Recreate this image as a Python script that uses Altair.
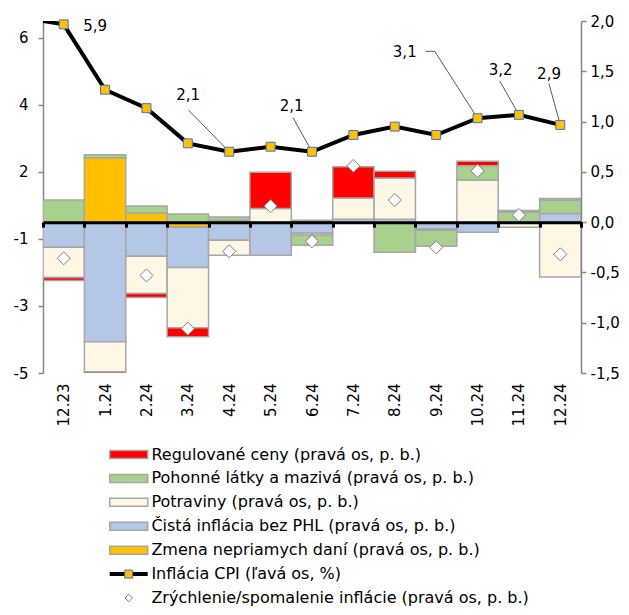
import json
import altair as alt
import pandas as pd

# ---------------- data ----------------
months = ["12.23", "1.24", "2.24", "3.24", "4.24", "5.24", "6.24",
          "7.24", "8.24", "9.24", "10.24", "11.24", "12.24"]

# CPI inflation, left axis (%)
cpi = [5.9, 3.95, 3.4, 2.35, 2.1, 2.25, 2.1, 2.6, 2.85, 2.6, 3.1, 3.2, 2.9]
cpi_prev = 6.1  # 11.23 - only the segment entering at the left edge is visible

# acceleration / deceleration of inflation, right axis (p. p.); 1.24 is off-scale
accel = [-0.36, None, -0.53, -1.06, -0.29, 0.16, -0.19, 0.56, 0.22, -0.25, 0.51, 0.07, -0.32]

# contributions, right axis (p. p.)
dane = [0.0, 0.64, 0.09, -0.05, 0.02, 0.0, 0.0, 0.0, 0.0, 0.0, 0.0, 0.0, 0.0]
cista = [-0.25, -1.19, -0.34, -0.40, -0.18, -0.33, -0.11, 0.03, 0.03, -0.065, -0.10, 0.0, 0.085]
potraviny = [-0.30, -0.30, -0.37, -0.60, -0.15, 0.135, -0.02, 0.21, 0.41, -0.015, 0.42, -0.05, -0.545]
pohonne = [0.22, 0.03, 0.07, 0.08, 0.03, 0.0, -0.10, 0.0, -0.30, -0.16, 0.14, 0.10, 0.135]
regulovane = [-0.03, -0.03, -0.04, -0.09, 0.0, 0.36, 0.02, 0.31, 0.065, 0.0, 0.045, 0.015, 0.015]

series_names = [
    "Regulované ceny (pravá os, p. b.)",
    "Pohonné látky a mazivá (pravá os, p. b.)",
    "Potraviny (pravá os, p. b.)",
    "Čistá inflácia bez PHL (pravá os, p. b.)",
    "Zmena nepriamych daní (pravá os, p. b.)",
]
line_name = "Inflácia CPI (ľavá os, %)"
diamond_name = "Zrýchlenie/spomalenie inflácie (pravá os, p. b.)"
series_colors = ["#ff0000", "#a9d18e", "#fff7e5", "#b4c7e7", "#ffc000"]

left_ticks = [-4.5, -2.5, -0.5, 1.5, 3.5, 5.5]
left_tick_labels = ["-5", "-3", "-1", "2", "4", "6"]
right_ticks = [-1.5, -1.0, -0.5, 0.0, 0.5, 1.0, 1.5, 2.0]

labelled = [0, 4, 6, 10, 11, 12]

# ---------------- layout / style ----------------
W, H = 538, 352
LEFT_DOM = [-4.5, 6.0]
RIGHT_DOM = [-1.5, 2.0]
FONT = "DejaVu Sans"
FS = 15
LEG_FS = 16
GRAY_AX = "#868686"
BAR_STROKE = "#a6a6a6"

px_x = W / len(months)
px_left = H / (LEFT_DOM[1] - LEFT_DOM[0])
zero_px = H * RIGHT_DOM[1] / (RIGHT_DOM[1] - RIGHT_DOM[0])

# label offsets (pixels, relative to the marker) and leader-line vertices
label_offsets = [(31.5, 1.3), (-41, -56.4), (-20.3, -45.4), (-72.8, -66.2), (-18.2, -45.3), (-11.3, -50.6)]
leader_vertices = [
    [],
    [(-40.8, -41.7)],
    [(-19, -34.1)],
    [(-51.8, -66.9), (-42.8, -66.9)],
    [(-19.2, -33.9)],
    [(-11.3, -41.3)],
]

# ---------------- tables ----------------
stack_order = [dane, cista, potraviny, pohonne, regulovane]
stack_names = [series_names[4], series_names[3], series_names[2], series_names[1], series_names[0]]
rows = []
for i in range(len(months)):
    pos, neg = 0.0, 0.0
    for vals, name in zip(stack_order, stack_names):
        v = vals[i]
        if v == 0:
            continue
        if v > 0:
            y0, y1 = pos, pos + v
            pos = y1
        else:
            y0, y1 = neg, neg + v
            neg = y1
        rows.append({"i": i, "x0": i - 0.5, "x1": i + 0.5, "y0": y0, "y1": y1, "series": name})
bars_df = pd.DataFrame(rows)

line_df = pd.DataFrame({"i": [-1] + list(range(len(months))), "cpi": [cpi_prev] + cpi})
pts_df = pd.DataFrame({"i": list(range(len(months))), "cpi": cpi})
acc_df = pd.DataFrame({"i": list(range(len(months))), "acc": accel}).dropna()

lab_rows, lead_rows = [], []
for k, i in enumerate(labelled):
    dx, dy = label_offsets[k]
    lab_rows.append({"tx": i + dx / px_x, "ty": cpi[i] - dy / px_left,
                     "lbl": f"{cpi[i]:.1f}".replace(".", ",")})
    verts = leader_vertices[k]
    if verts:
        pts = verts + [(0.0, 0.0)]
        for o, (vx, vy) in enumerate(pts):
            lead_rows.append({"lid": k, "o": o, "lx": i + vx / px_x, "ly": cpi[i] - vy / px_left})
lab_df = pd.DataFrame(lab_rows)
lead_df = pd.DataFrame(lead_rows)

legend_df = pd.DataFrame({"name": series_names + [line_name, diamond_name],
                          "row": list(range(7))})

# ---------------- scales / axes ----------------
x_scale = alt.Scale(domain=[-0.5, len(months) - 0.5], nice=False, zero=False)
left_scale = alt.Scale(domain=LEFT_DOM, nice=False, zero=False)
right_scale = alt.Scale(domain=RIGHT_DOM, nice=False, zero=False)
color_scale = alt.Scale(domain=series_names, range=series_colors)
LEG_RANGE = [433.5, 577.0]
leg_scale = alt.Scale(domain=[0, 6], range=LEG_RANGE, nice=False, zero=False)

left_expr = " : ".join(f"datum.value == {v} ? '{t}'" for v, t in zip(left_ticks, left_tick_labels)) + " : ''"
right_expr = "(datum.value < 0 ? '-' : '') + replace(format(abs(datum.value), '.1f'), '.', ',')"

x_label_axis = alt.Axis(values=list(range(len(months))), labelExpr=f"{json.dumps(months)}[datum.value]",
                        labelAngle=-90, ticks=False, domain=False, grid=False, labelPadding=10,
                        labelFont=FONT, labelFontSize=FS, labelColor="#000000", title=None,
                        labelOverlap=False)
x_zero_axis = alt.Axis(values=[i - 0.5 for i in range(len(months) + 1)], labels=False,
                       ticks=True, tickColor="#000000", tickWidth=3, tickSize=5,
                       domain=True, domainColor="#000000", domainWidth=3, grid=False,
                       offset=-(H - zero_px), zindex=2, title=None, orient="bottom")
left_axis = alt.Axis(orient="left", values=left_ticks, labelExpr=left_expr, tickSize=5,
                     tickColor=GRAY_AX, domainColor=GRAY_AX, domainWidth=1.5, tickWidth=1.5,
                     labelPadding=10, grid=False, title=None, labelFont=FONT, labelFontSize=FS,
                     labelColor="#000000")
right_axis = alt.Axis(orient="right", values=right_ticks, labelExpr=right_expr, tickSize=5,
                      tickColor=GRAY_AX, domainColor=GRAY_AX, domainWidth=1.5, tickWidth=1.5,
                      labelPadding=4, grid=False, title=None, labelFont=FONT, labelFontSize=FS,
                      labelColor="#000000")

# ---------------- layers ----------------
bars = alt.Chart(bars_df).mark_rect(stroke=BAR_STROKE, strokeWidth=1.5, clip=True).encode(
    x=alt.X("x0:Q", scale=x_scale, axis=x_label_axis),
    x2="x1:Q",
    y=alt.Y("y0:Q", scale=right_scale, axis=right_axis),
    y2="y1:Q",
    color=alt.Color("series:N", scale=color_scale, legend=None),
)

diamonds = alt.Chart(acc_df).mark_point(shape="diamond", filled=True, fill="white",
                                        stroke="#7f7f7f", strokeWidth=1, size=170,
                                        opacity=1).encode(
    x=alt.X("i:Q", scale=x_scale, axis=x_zero_axis),
    y=alt.Y("acc:Q", scale=right_scale, axis=None),
)

line = alt.Chart(line_df).mark_line(color="#000000", strokeWidth=4, clip=True).encode(
    x=alt.X("i:Q", scale=x_scale, axis=None),
    y=alt.Y("cpi:Q", scale=left_scale, axis=left_axis),
)

leaders = alt.Chart(lead_df).mark_line(color="#595959", strokeWidth=1).encode(
    x=alt.X("lx:Q", scale=x_scale, axis=None),
    y=alt.Y("ly:Q", scale=left_scale, axis=None),
    detail="lid:N",
    order="o:Q",
)

markers = alt.Chart(pts_df).mark_point(shape="square", filled=True, fill="#ffc000",
                                       stroke="#4472c4", strokeWidth=1, size=80,
                                       opacity=1).encode(
    x=alt.X("i:Q", scale=x_scale, axis=None),
    y=alt.Y("cpi:Q", scale=left_scale, axis=None),
)

labels = alt.Chart(lab_df).mark_text(font=FONT, fontSize=FS, color="#000000",
                                     align="center", baseline="middle").encode(
    x=alt.X("tx:Q", scale=x_scale, axis=None),
    y=alt.Y("ty:Q", scale=left_scale, axis=None),
    text="lbl:N",
)

# ---------------- legend (below the plot) ----------------
leg_base = alt.Chart(legend_df)
sym_x0, sym_x1, sym_xc, txt_x = 66.7, 104.7, 85.7, 108.4
half = 4 / (LEG_RANGE[1] - LEG_RANGE[0]) * 6

leg_rects = leg_base.transform_filter("datum.row < 5").transform_calculate(
    ya=f"datum.row - {half}", yb=f"datum.row + {half}"
).mark_rect(stroke=BAR_STROKE, strokeWidth=1.5).encode(
    x=alt.value(sym_x0), x2=alt.value(sym_x1),
    y=alt.Y("ya:Q", scale=leg_scale, axis=None), y2="yb:Q",
    color=alt.Color("name:N", scale=color_scale, legend=None),
)
leg_rule = leg_base.transform_filter("datum.row == 5").mark_rule(color="#000000", strokeWidth=4).encode(
    x=alt.value(sym_x0), x2=alt.value(sym_x1),
    y=alt.Y("row:Q", scale=leg_scale, axis=None),
)
leg_square = leg_base.transform_filter("datum.row == 5").mark_point(
    shape="square", filled=True, fill="#ffc000", stroke="#4472c4", strokeWidth=1, size=64, opacity=1
).encode(x=alt.value(sym_xc), y=alt.Y("row:Q", scale=leg_scale, axis=None))
leg_diamond = leg_base.transform_filter("datum.row == 6").mark_point(
    shape="diamond", filled=True, fill="white", stroke="#7f7f7f", strokeWidth=1, size=55, opacity=1
).encode(x=alt.value(sym_xc), y=alt.Y("row:Q", scale=leg_scale, axis=None))
leg_text = leg_base.mark_text(font=FONT, fontSize=LEG_FS, color="#000000", align="left",
                              baseline="middle").encode(
    x=alt.value(txt_x), y=alt.Y("row:Q", scale=leg_scale, axis=None), text="name:N",
)

chart = alt.layer(
    bars, diamonds, line, leaders, markers, labels,
    leg_rects, leg_rule, leg_square, leg_diamond, leg_text,
).resolve_scale(y="independent").resolve_axis(x="independent").properties(
    width=W, height=H,
    autosize=alt.AutoSizeParams(type="none"),
    padding={"left": 35, "top": 13, "right": 40, "bottom": 234},
    background="white",
).configure_view(stroke=None)

chart.save("out.html", embed_options={"renderer": "svg", "actions": False})
